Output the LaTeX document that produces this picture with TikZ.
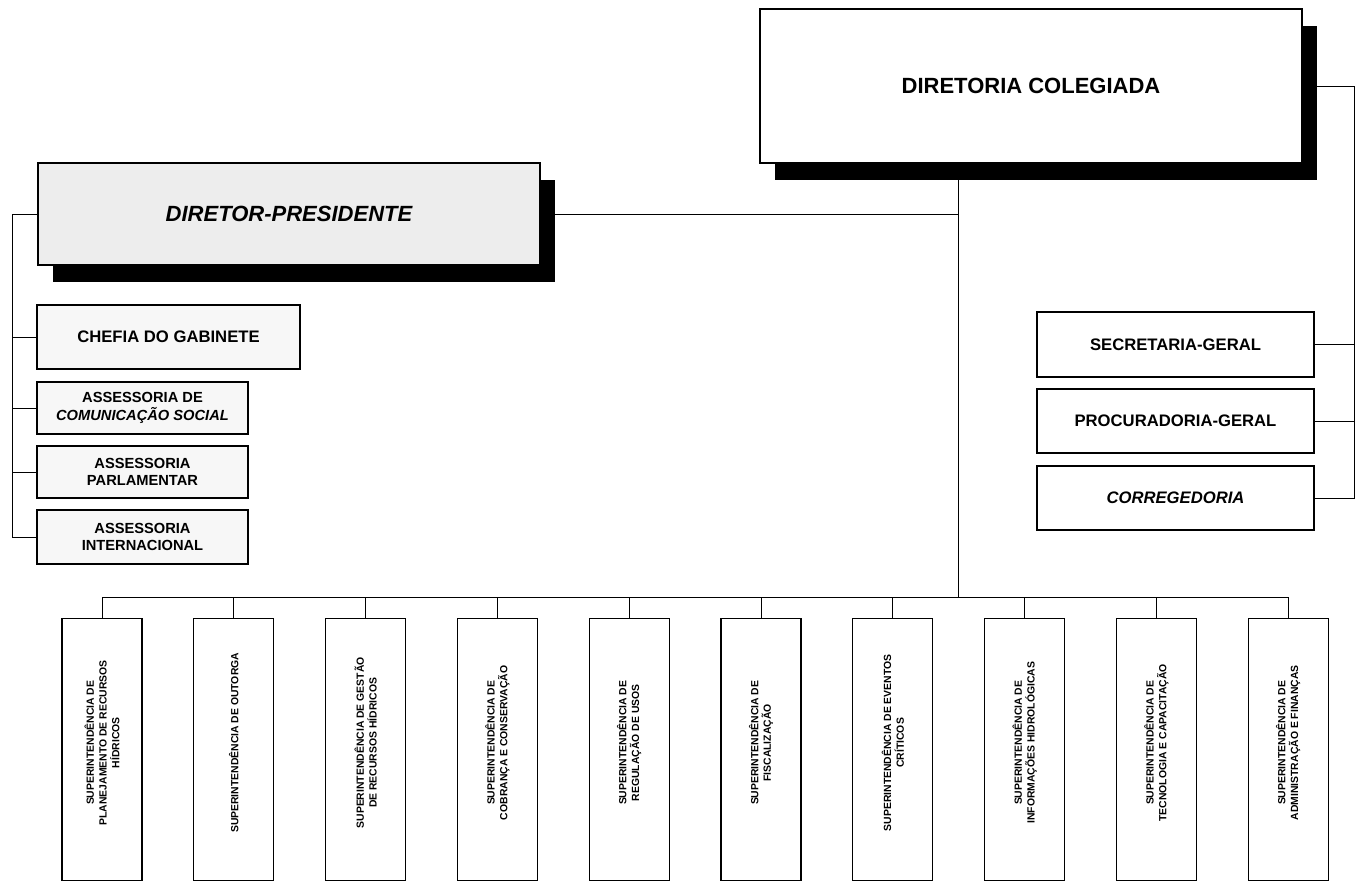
\documentclass[tikz,border=0pt]{standalone}
\usepackage{fontspec}
\setmainfont{Liberation Sans}
\usetikzlibrary{shadows}

\begin{document}
\begin{tikzpicture}[x=0.75pt,y=-0.75pt,
    unit/.style={draw,line width=0.9pt,inner sep=2pt,align=center,fill=white,
      font=\bfseries\fontsize{12.5}{14.5}\selectfont},
    board/.style={unit,font=\bfseries\fontsize{16.5}{19}\selectfont,
      drop shadow={shadow xshift=11pt,shadow yshift=-12.5pt,fill=black,opacity=1}},
    staff/.style={unit,fill=gray!6},
    superint/.style={draw,line width=0.9pt,minimum width=60pt,minimum height=196.5pt},
    vtext/.style={rotate=90,align=center,font=\bfseries\fontsize{7.8}{9.5}\selectfont},
    link/.style={line width=0.6pt}]

    % Fix the page to the size of the chart
    \useasboundingbox (0,0) rectangle (1360,883);

    % Draw the two boards at the top
    \node[board,minimum width=406.5pt,minimum height=115.5pt] (dc) at (1031,86) {DIRETORIA COLEGIADA};
    \node[board,fill=gray!14,font=\bfseries\itshape\fontsize{16.5}{19}\selectfont,
      minimum width=376.5pt,minimum height=76.5pt] (dp) at (289,214) {DIRETOR-PRESIDENTE};

    % Draw the units on the right
    \node[unit,minimum width=207.75pt,minimum height=48.75pt] (sg) at (1175.5,344.5) {SECRETARIA-GERAL};
    \node[unit,minimum width=207.75pt,minimum height=48pt] (pg) at (1175.5,421) {PROCURADORIA-GERAL};
    \node[unit,font=\bfseries\itshape\fontsize{12.5}{14.5}\selectfont,
      minimum width=207.75pt,minimum height=48pt] (cor) at (1175.5,498) {CORREGEDORIA};

    % Draw the units on the left
    \node[staff,minimum width=197.25pt,minimum height=48pt] (gab) at (168.5,337) {CHEFIA DO GABINETE};
    \node[staff,font=\bfseries\fontsize{11}{13}\selectfont,minimum width=158.25pt,minimum height=39pt]
      (com) at (142.5,408) {ASSESSORIA DE\\\textit{COMUNICAÇÃO SOCIAL}};
    \node[staff,font=\bfseries\fontsize{11}{13}\selectfont,minimum width=158.25pt,minimum height=39pt]
      (par) at (142.5,472) {ASSESSORIA\\PARLAMENTAR};
    \node[staff,font=\bfseries\fontsize{11}{13}\selectfont,minimum width=158.25pt,minimum height=40.5pt]
      (int) at (142.5,537) {ASSESSORIA\\INTERNACIONAL};

    % Draw the superintendencies along the bottom
    \foreach \txt [count=\i] in {
        {SUPERINTENDÊNCIA DE\\PLANEJAMENTO DE RECURSOS\\HÍDRICOS},
        {SUPERINTENDÊNCIA DE OUTORGA},
        {SUPERINTENDÊNCIA DE GESTÃO\\DE RECURSOS HÍDRICOS},
        {SUPERINTENDÊNCIA DE\\COBRANÇA E CONSERVAÇÃO},
        {SUPERINTENDÊNCIA DE\\REGULAÇÃO DE USOS},
        {SUPERINTENDÊNCIA DE\\FISCALIZAÇÃO},
        {SUPERINTENDÊNCIA DE EVENTOS\\CRÍTICOS},
        {SUPERINTENDÊNCIA DE\\INFORMAÇÕES HIDROLÓGICAS},
        {SUPERINTENDÊNCIA DE\\TECNOLOGIA E CAPACITAÇÃO},
        {SUPERINTENDÊNCIA DE\\ADMINISTRAÇÃO E FINANÇAS}} {
      \node[superint] (s\i) at ({102+131.8*(\i-1)},749.5) {};
      \node[vtext] (t\i) at ([yshift=5pt]s\i.center) {\txt};
    }

    % Bus points for the connectors
    \coordinate (bus) at (958,597);
    \coordinate (rb) at (1354,498);
    \coordinate (lb) at (12,537);

    % Draw the main trunk and the bottom bus
    \draw[link] (dc.south -| bus) -- (bus);
    \draw[link] (dp.east) -- (dp.east -| bus);
    \draw[link] (s1.north |- bus) -- (s10.north |- bus);
    \foreach \i in {1,...,10} {
      \draw[link] (s\i.north) -- (s\i.north |- bus);
    }

    % Draw the right branch
    \draw[link] (dc.east) -| (cor.east -| rb) -- (cor.east);
    \draw[link] (sg.east) -- (sg.east -| rb);
    \draw[link] (pg.east) -- (pg.east -| rb);

    % Draw the left branch
    \draw[link] (dp.west) -| (int.west -| lb) -- (int.west);
    \draw[link] (gab.west) -- (gab.west -| lb);
    \draw[link] (com.west) -- (com.west -| lb);
    \draw[link] (par.west) -- (par.west -| lb);
\end{tikzpicture}
\end{document}
